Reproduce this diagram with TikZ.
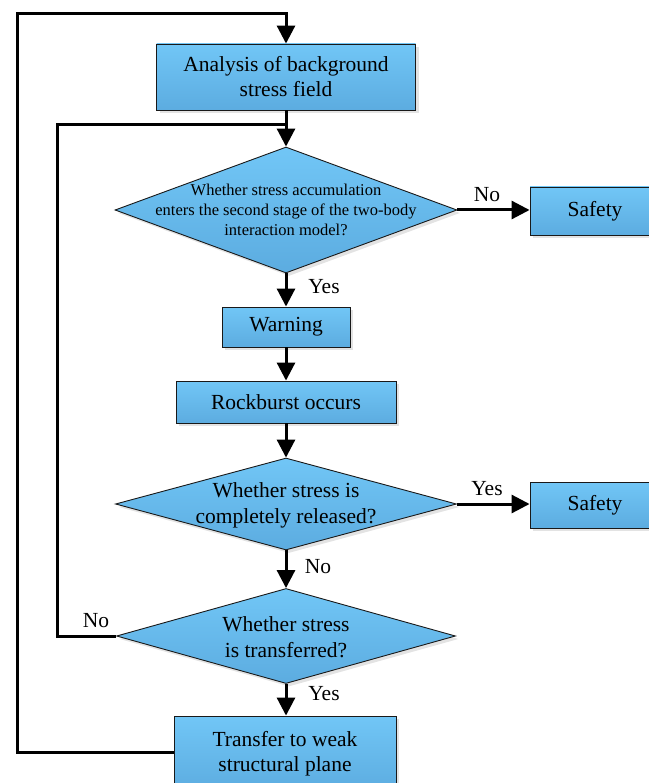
\documentclass[tikz,border=0pt]{standalone}
\usepackage{fontspec}
\setmainfont{Liberation Serif}
\usetikzlibrary{shapes.geometric,arrows.meta,shadows}
\definecolor{boxtop}{RGB}{113,198,246}
\definecolor{boxbot}{RGB}{92,172,224}
\tikzset{
  flowbox/.style={rectangle, draw=black!90, line width=0.9pt, top color=boxtop, bottom color=boxbot,
    inner sep=0pt, align=center, font=\fontsize{21.5}{25}\selectfont,
    drop shadow={shadow xshift=3pt, shadow yshift=-3pt, fill=black!18, opacity=0.6}},
  decision/.style={diamond, draw=black!90, line width=0.9pt, top color=boxtop, bottom color=boxbot,
    inner sep=0pt, aspect=1,
    drop shadow={shadow xshift=3pt, shadow yshift=-3pt, fill=black!18, opacity=0.6}},
  dtext/.style={align=center, inner sep=0pt},
  conn/.style={line width=3pt, -{Triangle[length=18pt,width=18pt]}},
  link/.style={line width=3pt},
  lbl/.style={font=\fontsize{21.5}{25}\selectfont, inner sep=0pt}
}
\begin{document}
\begin{tikzpicture}[x=1pt,y=-1pt]
\useasboundingbox (0,0) rectangle (648,783);
% nodes
\node[flowbox, minimum width=259pt, minimum height=66pt] (b1) at (286,77) {Analysis of background\\stress field};
\node[decision, minimum width=342pt, minimum height=126pt] (d1) at (286,210) {};
\node[dtext, font=\fontsize{16.5}{20}\selectfont] (t1) at (286,210) {Whether stress accumulation\\enters the second stage of the two-body\\interaction model?};
\node[flowbox, minimum width=130pt, minimum height=48pt] (s1) at (595,211) {Safety};
\node[flowbox, minimum width=128pt, minimum height=40pt] (w) at (286,327) {Warning};
\node[flowbox, minimum width=220pt, minimum height=42pt] (r) at (286,402) {Rockburst occurs};
\node[decision, minimum width=341pt, minimum height=92pt] (d2) at (286,504) {};
\node[dtext, font=\fontsize{21.5}{26}\selectfont] (t2) at (286,505) {Whether stress is\\completely released?};
\node[flowbox, minimum width=130pt, minimum height=46pt] (s2) at (595,505) {Safety};
\node[decision, minimum width=339pt, minimum height=95pt] (d3) at (286,636) {};
\node[dtext, font=\fontsize{21.5}{26}\selectfont] (t3) at (286,637) {Whether stress\\is transferred?};
\node[flowbox, minimum width=222pt, minimum height=76pt] (tr) at (285,754) {Transfer to weak\\structural plane};
% helper coordinates
\coordinate (j1) at (286,125);
\coordinate (top) at (286,14);
% connectors
\draw[conn] (b1.south) -- (d1.north);
\draw[conn] (d1.east) -- (s1.west |- d1.east);
\draw[conn] (d1.south) -- (w.north);
\draw[conn] (w.south) -- (r.north);
\draw[conn] (r.south) -- (d2.north);
\draw[conn] (d2.east) -- (s2.west |- d2.east);
\draw[conn] (d2.south) -- (d3.north);
\draw[conn] (d3.south) -- (tr.north -| d3.south);
\draw[link] (d3.west) -- (57,636) -- (57,125) -- (j1);
\draw[conn] (tr.west |- 0,752) -- (17,752) -- (17,14) -- (top) -- (b1.north);
% labels
\node[lbl] at (487,195) {No};
\node[lbl] at (324,287) {Yes};
\node[lbl] at (487,489) {Yes};
\node[lbl] at (318,567) {No};
\node[lbl] at (96,621) {No};
\node[lbl] at (324,694) {Yes};
\end{tikzpicture}
\end{document}
